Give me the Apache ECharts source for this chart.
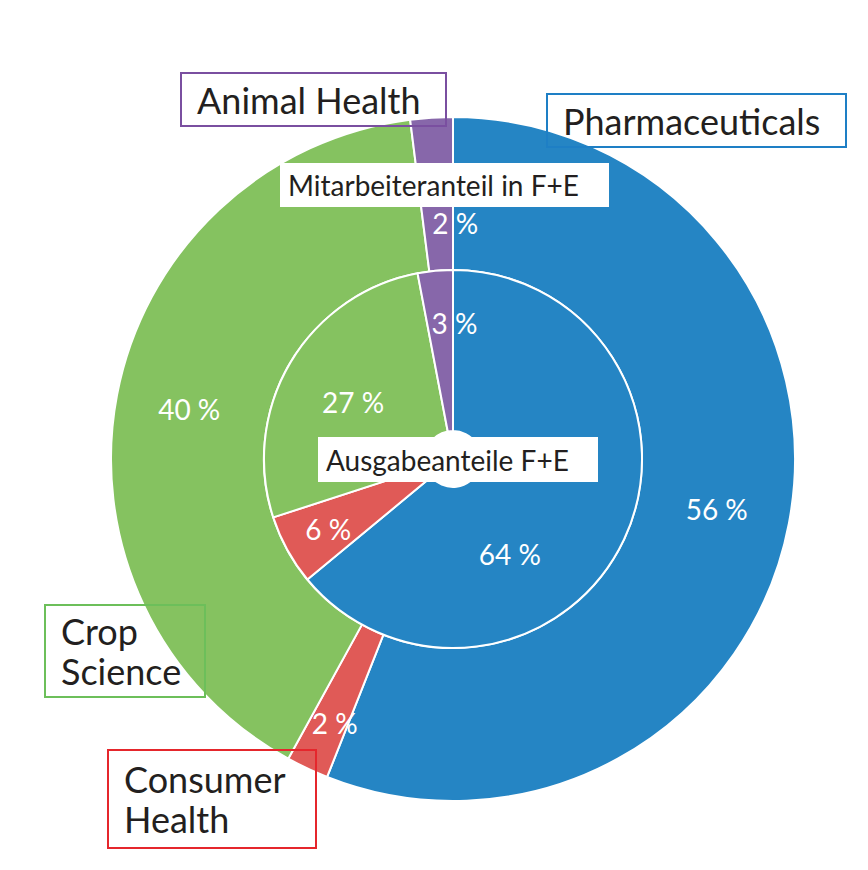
<!DOCTYPE html>
<html><head><meta charset="utf-8">
<script src="https://cdn.jsdelivr.net/npm/echarts@6/dist/echarts.min.js"></script>
<style>html,body{margin:0;padding:0;background:#fff}#c{width:868px;height:870px}</style>
</head><body><div id="c"></div>
<script>
const segments = ['Pharmaceuticals', 'Consumer Health', 'Crop Science', 'Animal Health'];
const staffShare = [56, 2, 40, 2];      // Mitarbeiteranteil in F+E (outer ring)
const spendShare = [64, 6, 27, 3];      // Ausgabeanteile F+E (inner pie)
const colors = ['#2585C4', '#E05A57', '#85C260', '#8767AA'];
const boxColors = ['#1E7FC5', '#E5262C', '#6CBF5A', '#7A4FA0'];

const FONT = 'Lato';
// label nudges (by segment index) to mirror the reference placement
const outerShift = [[0, 0], [-4, 21], [0, 0], [19, 32]];
const innerShift = [[-44, 48], [-27, 16], [-4, 0], [12, -25]];

const chart = echarts.init(document.getElementById('c'), null, { renderer: 'svg' });
const mk = (vals) => segments.map((n, i) => ({ name: n, value: vals[i], itemStyle: { color: colors[i] } }));
const labelStyle = { show: true, position: 'inside', color: '#fff', fontFamily: FONT, fontSize: 28, formatter: p => p.value + ' %' };

function box(x, y, w, h, color, lines, fs) {
  const els = [{ type: 'rect', shape: { x, y, width: w, height: h }, style: { fill: 'none', stroke: color, lineWidth: 2 }, z: 10 }];
  lines.forEach((t, i) => els.push({ type: 'text', x: x + 16, y: y + h / 2 + (i - (lines.length - 1) / 2) * 40, style: { text: t, fill: '#231F20', font: fs + 'px ' + FONT, textVerticalAlign: 'middle', verticalAlign: 'middle' }, z: 11 }));
  return els;
}
function whiteBox(x, y, w, h, text) {
  return [{ type: 'rect', shape: { x, y, width: w, height: h }, style: { fill: '#fff' }, z: 10 },
  { type: 'text', x: x + 8, y: y + h / 2, style: { text, fill: '#231F20', font: '28px ' + FONT, verticalAlign: 'middle', textVerticalAlign: 'middle' }, z: 11 }];
}

chart.setOption({
  animation: false,
  series: [
    {
      type: 'pie', center: [453, 459], radius: [189, 342], startAngle: 90, clockwise: true,
      avoidLabelOverlap: false, silent: true,
      itemStyle: { borderColor: '#fff', borderWidth: 2 },
      label: labelStyle, labelLine: { show: false },
      labelLayout: p => { const s = outerShift[p.dataIndex] || [0, 0]; return { dx: s[0], dy: s[1] }; },
      data: mk(staffShare)
    },
    {
      type: 'pie', center: [453, 459], radius: [28, 189], startAngle: 90, clockwise: true,
      avoidLabelOverlap: false, silent: true,
      itemStyle: { borderColor: '#fff', borderWidth: 2 },
      label: labelStyle, labelLine: { show: false },
      labelLayout: p => { const s = innerShift[p.dataIndex] || [0, 0]; return { dx: s[0], dy: s[1] }; },
      data: mk(spendShare)
    }
  ],
  graphic: [
    ...box(181, 73, 265, 53, boxColors[3], ['Animal Health'], 36),
    ...box(547, 94, 299, 53, boxColors[0], ['Pharmaceuticals'], 36),
    ...box(45, 605, 160, 92, boxColors[2], ['Crop', 'Science'], 36),
    ...box(108, 750, 208, 98, boxColors[1], ['Consumer', 'Health'], 36),
    ...whiteBox(280, 163, 329, 44, 'Mitarbeiteranteil in F+E'),
    ...whiteBox(318, 437, 280, 45, 'Ausgabeanteile F+E')
  ]
});
</script></body></html>
